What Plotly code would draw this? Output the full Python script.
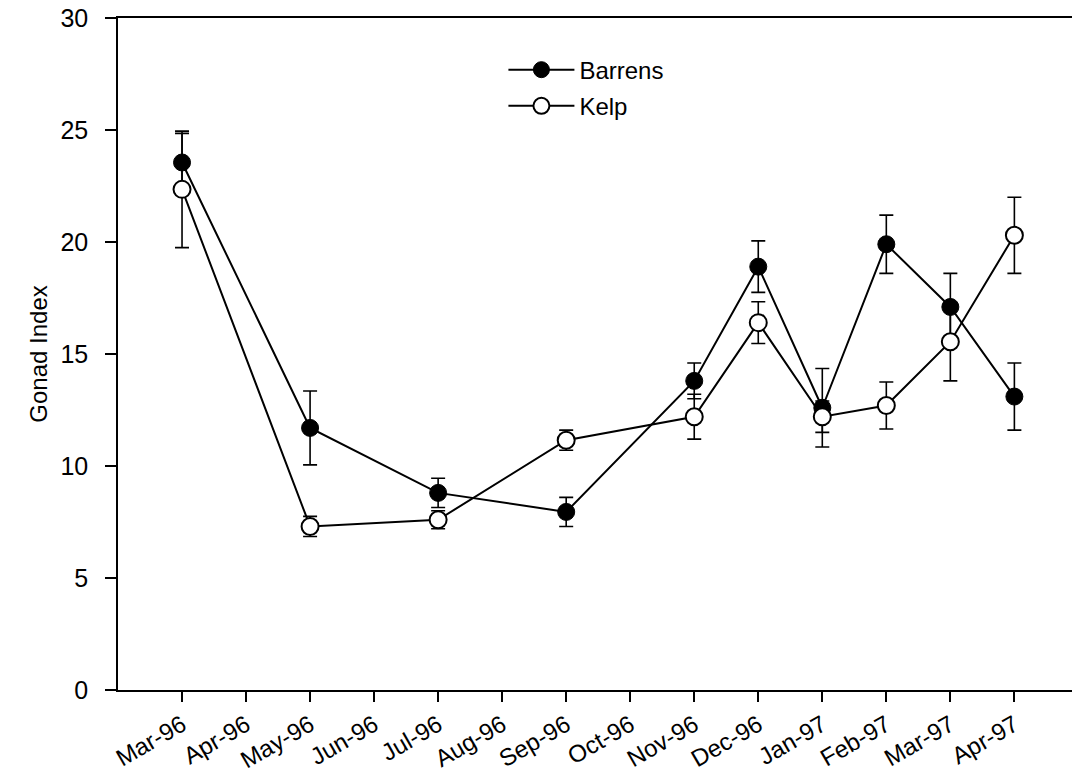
import plotly.graph_objects as go

months = ["Mar-96", "Apr-96", "May-96", "Jun-96", "Jul-96", "Aug-96", "Sep-96",
          "Oct-96", "Nov-96", "Dec-96", "Jan-97", "Feb-97", "Mar-97", "Apr-97"]

# Sampled months (index into the month list)
barrens_idx = [0, 2, 4, 6, 8, 9, 10, 11, 12, 13]
barrens_mean = [23.55, 11.7, 8.8, 7.95, 13.8, 18.9, 12.6, 19.9, 17.1, 13.1]
barrens_se = [1.3, 1.65, 0.65, 0.65, 0.8, 1.15, 1.75, 1.3, 1.5, 1.5]

kelp_idx = [0, 2, 4, 6, 8, 9, 10, 11, 12, 13]
kelp_mean = [22.35, 7.3, 7.6, 11.15, 12.2, 16.4, 12.2, 12.7, 15.55, 20.3]
kelp_se = [2.6, 0.45, 0.4, 0.45, 1.0, 0.93, 0.7, 1.05, 1.75, 1.7]

FONT = "Arial, 'Liberation Sans', Helvetica, sans-serif"

fig = go.Figure()

fig.add_trace(go.Scatter(
    x=barrens_idx, y=barrens_mean, name="Barrens", mode="lines+markers",
    legendgroup="b",
    line=dict(color="black", width=2),
    marker=dict(symbol="circle", size=17, color="black",
                line=dict(color="black", width=1)),
    error_y=dict(type="data", array=barrens_se, visible=True,
                 color="black", thickness=1.6, width=7),
))

fig.add_trace(go.Scatter(
    x=kelp_idx, y=kelp_mean, name="Kelp", mode="lines+markers",
    legendgroup="k",
    line=dict(color="black", width=2),
    marker=dict(symbol="circle", size=17, color="white",
                line=dict(color="black", width=2)),
    error_y=dict(type="data", array=kelp_se, visible=True,
                 color="black", thickness=1.6, width=7),
))

fig.update_layout(
    width=1072, height=777,
    margin=dict(l=118, r=0, t=18, b=87),
    plot_bgcolor="white", paper_bgcolor="white",
    font=dict(family=FONT, size=24, color="black"),
    showlegend=True,
    legend=dict(
        x=0.404, y=0.956, xanchor="left", yanchor="top",
        traceorder="grouped", bgcolor="rgba(0,0,0,0)",
        font=dict(family=FONT, size=24, color="black"),
        itemwidth=66, tracegroupgap=2,
    ),
)

fig.update_xaxes(
    range=[-1, 13.9],
    tickmode="array", tickvals=list(range(len(months))), ticktext=months,
    tickangle=-30, ticks="outside", ticklen=10, tickwidth=1.5, tickcolor="black",
    showline=True, linecolor="black", linewidth=1.5, mirror=True,
    showgrid=False, zeroline=False,
    tickfont=dict(family=FONT, size=24, color="black"),
)

fig.update_yaxes(
    range=[0, 30], tickvals=[0, 5, 10, 15, 20, 25, 30],
    ticks="outside", ticklen=11, tickwidth=1.5, tickcolor="black",
    ticklabelstandoff=12,
    showline=True, linecolor="black", linewidth=1.5, mirror=False,
    showgrid=False, zeroline=False,
    tickfont=dict(family=FONT, size=25, color="black"),
    title=dict(text="Gonad Index", font=dict(family=FONT, size=24, color="black"),
               standoff=6),
)

fig.write_html("out.html")
